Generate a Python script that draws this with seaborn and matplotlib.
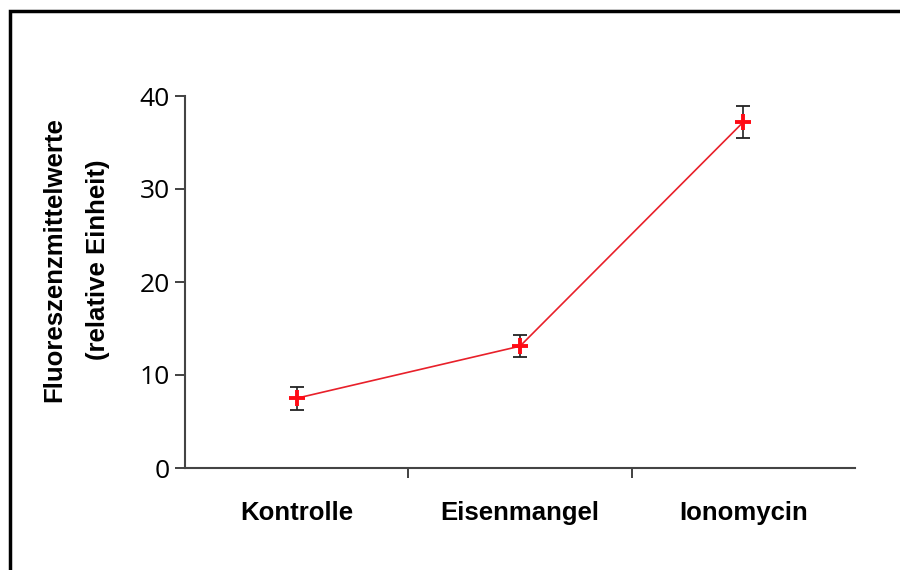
import matplotlib
matplotlib.use("Agg")
import matplotlib.pyplot as plt
import seaborn as sns
import pandas as pd
from matplotlib.patches import Rectangle

categories = ["Kontrolle", "Eisenmangel", "Ionomycin"]
means = [7.5, 13.1, 37.2]
errors = [1.25, 1.2, 1.75]
yticks = [0, 10, 20, 30, 40]
ylabel = "Fluoreszenzmittelwerte\n(relative Einheit)"

df = pd.DataFrame({"cat": categories, "val": means, "err": errors})

sns.set_theme(style="white")
plt.rcParams["font.family"] = ["Liberation Sans", "DejaVu Sans"]
plt.rcParams["text.color"] = "black"
plt.rcParams["xtick.color"] = "black"
plt.rcParams["ytick.color"] = "black"

fig = plt.figure(figsize=(9, 5.7), dpi=100)
ax = fig.add_axes([185/900, 1-468/570, (855-185)/900, (468-96)/570])

pos = list(range(len(categories)))
sns.lineplot(x=pos, y=df["val"], ax=ax, color="#e8202a", linewidth=1.2, zorder=2)
ax.errorbar(pos, df["val"], yerr=df["err"], fmt="none", ecolor="#222222",
            elinewidth=1.2, capsize=5, capthick=1.3, zorder=3)
sns.scatterplot(x=pos, y=df["val"], ax=ax, marker="+", s=130, color="#ff0a14",
                linewidth=2.8, zorder=4, legend=False)

ax.set_xlim(-0.5, 2.5)
ax.set_ylim(0, 40)
ax.set_yticks(yticks)
ax.set_yticklabels([str(v) for v in yticks], fontfamily="Open Sans", fontsize=19, color="black")
ax.set_xticks(pos)
ax.set_xticklabels(categories, fontsize=18.5, fontweight="bold", color="black")
ax.set_xticks([0.5, 1.5], minor=True)
ax.tick_params(axis="x", which="major", length=0, pad=24)
ax.tick_params(axis="x", which="minor", length=7, width=1.3, color="#333333", bottom=True)
ax.tick_params(axis="y", which="major", length=7, width=1.3, color="#333333", pad=4, left=True)
ax.set_xlabel("")
ax.set_ylabel("")

for s in ["top", "right"]:
    ax.spines[s].set_visible(False)
for s in ["left", "bottom"]:
    ax.spines[s].set_color("#444444")
    ax.spines[s].set_linewidth(1.5)

fig.text(76/900, 1-260/570, ylabel, rotation=90, ha="center", va="center",
         multialignment="center", fontsize=18.5, fontweight="bold", linespacing=2.0,
         color="black")

fig.patches.append(Rectangle((9.5/900, -0.1), 1.2, 1-11.5/570+0.1, transform=fig.transFigure,
                             fill=False, edgecolor="black", linewidth=2.5))

fig.savefig("out.png", dpi=100)
